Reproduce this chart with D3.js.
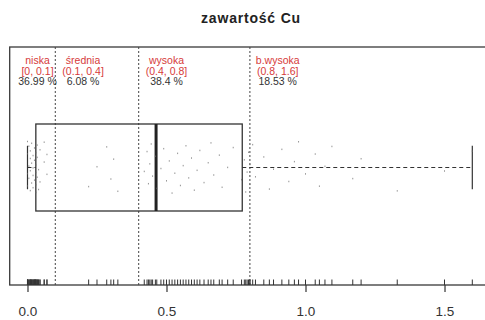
<!DOCTYPE html>
<html>
<head>
<meta charset="utf-8">
<script src="https://cdn.jsdelivr.net/npm/d3@7"></script>
<style>
  html, body { margin: 0; padding: 0; background: #fff; }
  svg { display: block; font-family: "Liberation Sans", Arial, sans-serif; }
</style>
</head>
<body>
<svg id="chart" width="485" height="320"></svg>
<script>
// Copper content (Cu) measurements, one value per sample
const cuValues = [
  0.00, 0.00, 0.00, 0.00, 0.005, 0.005, 0.005, 0.01, 0.01, 0.01, 0.01,
  0.015, 0.015, 0.015, 0.02, 0.02, 0.02, 0.02, 0.025, 0.025, 0.025,
  0.03, 0.03, 0.03, 0.03, 0.03, 0.035, 0.035, 0.035, 0.04, 0.04,
  0.045, 0.045, 0.06, 0.06, 0.07, 0.07,
  0.22, 0.25, 0.285, 0.30, 0.31, 0.325,
  0.42, 0.43, 0.435, 0.44, 0.445, 0.45, 0.46, 0.465, 0.48, 0.49,
  0.50, 0.51, 0.52, 0.53, 0.54, 0.55, 0.56, 0.57, 0.58, 0.59,
  0.60, 0.61, 0.62, 0.635, 0.65, 0.66, 0.67, 0.69, 0.70, 0.72,
  0.74, 0.77, 0.78, 0.785, 0.79, 0.795, 0.80, 0.80,
  0.81, 0.82, 0.85, 0.87, 0.885, 0.915, 0.94, 0.96, 0.975, 1.00,
  1.035, 1.05, 1.07, 1.095, 1.17, 1.20, 1.33, 1.50, 1.60
];

// Class boundaries and their labels
const classBreaks = [0.1, 0.4, 0.8];
const classStarts = [null, 0.1, 0.4, 0.8];
const classNames = ["niska", "średnia", "wysoka", "b.wysoka"];
const classRanges = ["[0, 0.1]", "(0.1, 0.4]", "(0.4, 0.8]", "(0.8, 1.6]"];
const classShares = ["36.99 %", "6.08 %", "38.4 %", "18.53 %"];

const axisTicks = [0, 0.5, 1.0, 1.5];
const chartTitle = "zawartość Cu";

const svg = d3.select("#chart");

// plotting region
const frame = { top: 47, bottom: 285 };
const xDomain = [-0.064, 1.664];
const x = d3.scaleLinear().domain(xDomain).range([9.7, 490.1]);
const yMid = 167.5;
const boxHalf = 43.5;

// title
svg.append("text")
  .attr("x", 251).attr("y", 23)
  .attr("text-anchor", "middle")
  .attr("font-size", 14).attr("font-weight", "bold")
  .attr("letter-spacing", 0.8)
  .attr("fill", "#222")
  .text(chartTitle);

// frame around the plotting region
svg.append("rect")
  .attr("x", x(xDomain[0])).attr("y", frame.top)
  .attr("width", x(xDomain[1]) - x(xDomain[0]))
  .attr("height", frame.bottom - frame.top)
  .attr("fill", "none").attr("stroke", "#3a3a3a").attr("stroke-width", 1.3);

// class boundary lines
svg.append("g").selectAll("line").data(classBreaks).join("line")
  .attr("x1", d => x(d)).attr("x2", d => x(d))
  .attr("y1", frame.top).attr("y2", frame.bottom)
  .attr("stroke", "#444").attr("stroke-width", 1)
  .attr("stroke-dasharray", "2,2");

// class labels: name, interval, share
const labels = svg.append("g").attr("text-anchor", "middle").attr("font-size", 10.5);
classNames.forEach((name, i) => {
  const cx = x((classStarts[i] === null ? xDomain[0] : classStarts[i]) + 0.1);
  labels.append("text").attr("x", cx).attr("y", 64).attr("fill", "#d63a3a").text(name);
  labels.append("text").attr("x", cx).attr("y", 74.5).attr("fill", "#d63a3a").text(classRanges[i]);
  labels.append("text").attr("x", cx).attr("y", 85).attr("fill", "#333").text(classShares[i]);
});

// box-and-whisker statistics
const sorted = cuValues.slice().sort(d3.ascending);
const q1 = d3.quantile(sorted, 0.25);
const med = d3.quantile(sorted, 0.5);
const q3 = d3.quantile(sorted, 0.75);
const iqr = q3 - q1;
const hiW = d3.max(sorted.filter(v => v <= q3 + 1.5 * iqr));
const loW = d3.min(sorted.filter(v => v >= q1 - 1.5 * iqr));

const bp = svg.append("g");
// whiskers
bp.selectAll("line.whisker").data([[loW, q1], [q3, hiW]]).join("line")
  .attr("class", "whisker")
  .attr("x1", d => x(d[0])).attr("x2", d => x(d[1]))
  .attr("y1", yMid).attr("y2", yMid)
  .attr("stroke", "#333").attr("stroke-width", 1)
  .attr("stroke-dasharray", "4,3");
bp.selectAll("line.cap").data([loW, hiW]).join("line")
  .attr("class", "cap")
  .attr("x1", d => x(d)).attr("x2", d => x(d))
  .attr("y1", yMid - boxHalf / 2).attr("y2", yMid + boxHalf / 2)
  .attr("stroke", "#333").attr("stroke-width", 1.2);
// box
bp.append("rect")
  .attr("x", x(q1)).attr("y", yMid - boxHalf)
  .attr("width", x(q3) - x(q1)).attr("height", boxHalf * 2)
  .attr("fill", "none").attr("stroke", "#333").attr("stroke-width", 1.3);
bp.append("line")
  .attr("x1", x(med)).attr("x2", x(med))
  .attr("y1", yMid - boxHalf).attr("y2", yMid + boxHalf)
  .attr("stroke", "#222").attr("stroke-width", 3);

// jittered sample points (deterministic vertical spread)
svg.append("g").selectAll("rect").data(cuValues).join("rect")
  .attr("x", d => x(d) - 0.5)
  .attr("y", (d, i) => yMid + (((i * 0.6180339887) % 1) - 0.5) * 52 - 0.75)
  .attr("width", 1).attr("height", 1.5)
  .attr("fill", "#666").attr("opacity", 0.7);

// rug along the axis
svg.append("g").selectAll("line").data(cuValues).join("line")
  .attr("x1", d => x(d)).attr("x2", d => x(d))
  .attr("y1", frame.bottom - 5.5).attr("y2", frame.bottom)
  .attr("stroke", "#333").attr("stroke-width", 1);

// x axis
const axis = svg.append("g")
  .attr("transform", `translate(0,${frame.bottom})`)
  .call(d3.axisBottom(x).tickValues(axisTicks).tickFormat(d3.format(".1f"))
    .tickSize(7).tickPadding(14));
axis.select(".domain").remove();
axis.selectAll(".tick line").attr("stroke", "#333").attr("stroke-width", 1.2);
axis.selectAll(".tick text")
  .attr("font-family", "Liberation Sans, Arial, sans-serif")
  .attr("font-size", 13.5).attr("fill", "#333");
</script>
</body>
</html>
